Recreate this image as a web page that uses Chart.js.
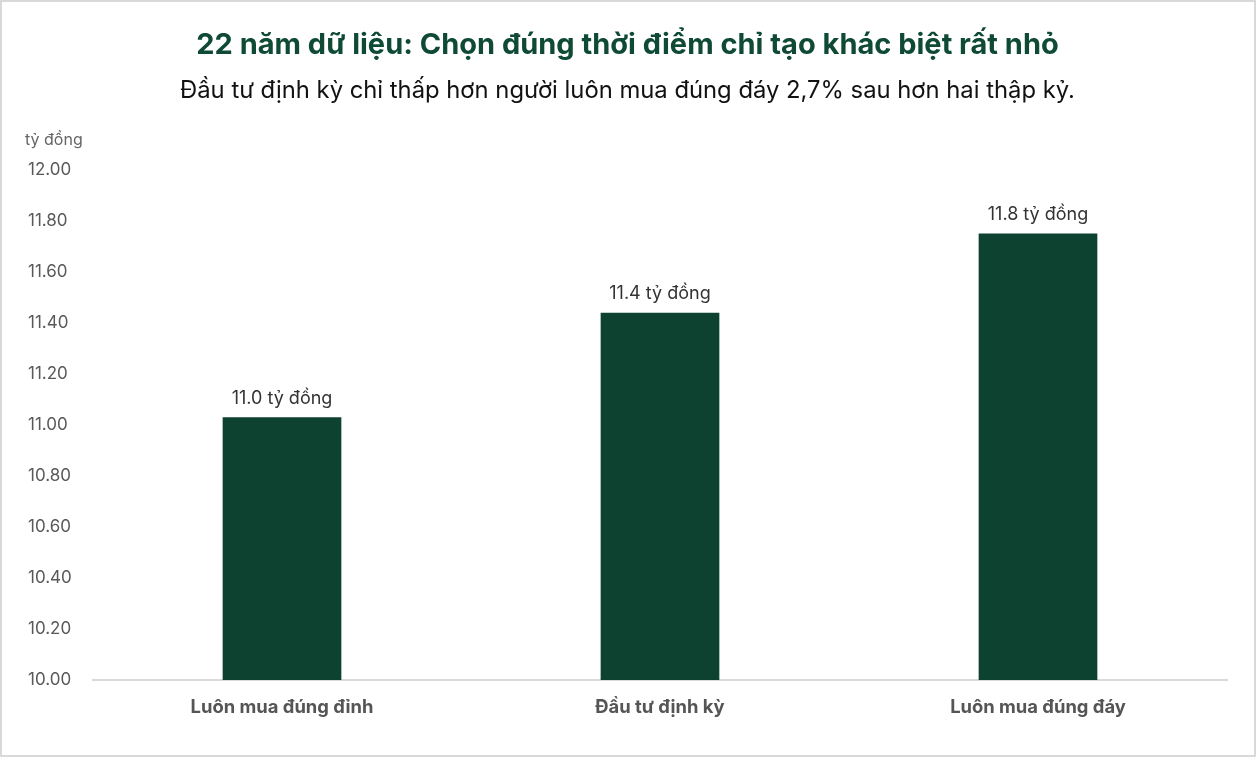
<!DOCTYPE html>
<html>
<head>
<meta charset="utf-8">
<script src="https://cdn.jsdelivr.net/npm/chart.js@4"></script>
<style>
  html, body { margin: 0; padding: 0; background: #fff; }
  #wrap { position: relative; width: 1256px; height: 757px; border: 2px solid #d9d9d9; box-sizing: border-box; }
  #wrap canvas { display: block; }
</style>
</head>
<body>
<div id="wrap"><canvas id="c"></canvas></div>
<script>
const categories = ["Luôn mua đúng đỉnh", "Đầu tư định kỳ", "Luôn mua đúng đáy"];
const values = [11.03, 11.44, 11.75];
const valueLabels = ["11.0 tỷ đồng", "11.4 tỷ đồng", "11.8 tỷ đồng"];
const titleText = "22 năm dữ liệu: Chọn đúng thời điểm chỉ tạo khác biệt rất nhỏ";
const subtitleText = "Đầu tư định kỳ chỉ thấp hơn người luôn mua đúng đáy 2,7% sau hơn hai thập kỷ.";
const unitText = "tỷ đồng";

const FONT = "Inter, 'Noto Sans', sans-serif";

const labelPlugin = {
  id: 'labels',
  afterDatasetsDraw(chart) {
    const ctx = chart.ctx;
    const meta = chart.getDatasetMeta(0);
    ctx.save();
    ctx.font = "18px " + FONT;
    ctx.fillStyle = "#333333";
    ctx.textAlign = "center";
    ctx.textBaseline = "bottom";
    meta.data.forEach((bar, i) => {
      ctx.fillText(valueLabels[i], bar.x, bar.y - 10);
    });
    ctx.font = "16px " + FONT;
    ctx.fillStyle = "#666666";
    ctx.textAlign = "left";
    ctx.textBaseline = "middle";
    ctx.fillText(unitText, 23, 138);
    ctx.restore();
  }
};

new Chart(document.getElementById('c'), {
  type: 'bar',
  data: {
    labels: categories,
    datasets: [{
      data: values,
      backgroundColor: "#0d4130",
      borderWidth: 0,
      categoryPercentage: 1.0,
      barPercentage: 0.314
    }]
  },
  plugins: [labelPlugin],
  options: {
    responsive: true,
    maintainAspectRatio: false,
    animation: false,
    layout: { padding: { left: 26, right: 27, top: 0, bottom: 27 } },
    plugins: {
      legend: { display: false },
      tooltip: { enabled: false },
      title: {
        display: true,
        text: titleText,
        color: "#0f4a35",
        font: { family: FONT, size: 29, weight: 'bold', lineHeight: 1.2 },
        padding: { top: 26, bottom: 14 }
      },
      subtitle: {
        display: true,
        text: subtitleText,
        color: "#111111",
        font: { family: FONT, size: 23.8, weight: 'normal', lineHeight: 1.2 },
        padding: { top: 0, bottom: 64.5 }
      }
    },
    scales: {
      x: {
        grid: { display: false },
        border: { display: true, color: "#d9d9d9", width: 2 },
        ticks: {
          color: "#555555",
          padding: 9,
          font: { family: FONT, size: 18.4, weight: 'bold' }
        }
      },
      y: {
        min: 10,
        max: 12,
        grid: { display: false },
        border: { display: false },
        afterFit(s) { s.width = 65; },
        ticks: {
          stepSize: 0.2,
          crossAlign: 'far',
          color: "#595959",
          padding: 10,
          font: { family: FONT, size: 17 },
          callback: (v) => Number(v).toFixed(2)
        }
      }
    }
  }
});
</script>
</body>
</html>
